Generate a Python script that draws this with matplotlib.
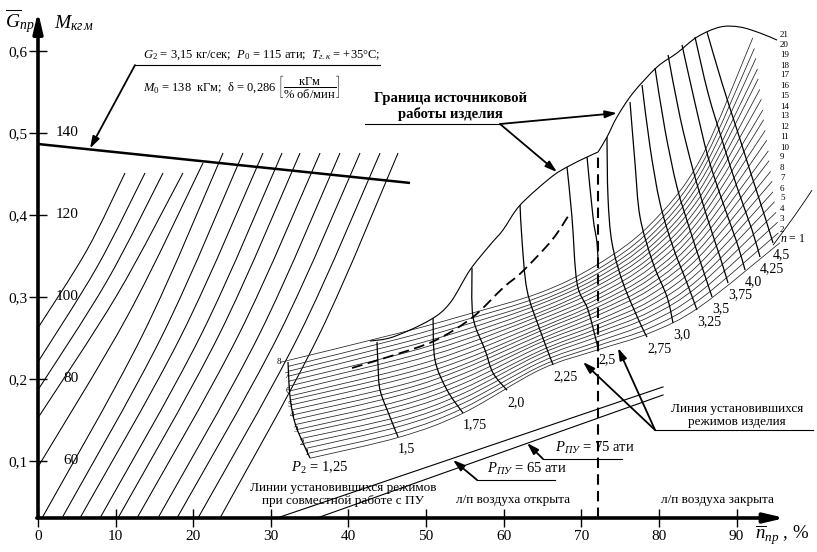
import numpy as np
import matplotlib
matplotlib.use("Agg")
import matplotlib.pyplot as plt
from matplotlib.path import Path
from matplotlib.patches import PathPatch

plt.rcParams["font.family"] = ["Liberation Serif", "DejaVu Serif"]
plt.rcParams["mathtext.fontset"] = "custom"
plt.rcParams["mathtext.rm"] = "Liberation Serif"
plt.rcParams["mathtext.it"] = "Liberation Serif:italic"
plt.rcParams["mathtext.bf"] = "Liberation Serif:bold"

# ---------------- axes / ticks ----------------
x_ticks = [0, 10, 20, 30, 40, 50, 60, 70, 80, 90]
x_tick_labels = ["0", "10", "20", "30", "40", "50", "60", "70", "80", "90"]
g_ticks = [0.1, 0.2, 0.3, 0.4, 0.5, 0.6]
g_tick_labels = ["0,1", "0,2", "0,3", "0,4", "0,5", "0,6"]
m_labels = ["60", "80", "100", "120", "140"]
m_at_g = [0.1, 0.2, 0.3, 0.4, 0.5]

# ---------------- left family (torque lines) ----------------
torque_x = [
    [0.0, 6.31, 11.21],
    [0.0, 7.60, 13.79],
    [0.0, 8.89, 16.11],
    [0.0, 10.18, 18.68],
    [0.0, 11.60, 21.26],
    [0.52, 13.47, 23.84],
    [3.09, 16.04, 26.41],
    [5.41, 18.49, 28.99],
    [7.99, 21.00, 31.44],
    [10.31, 23.32, 33.76],
    [12.76, 25.84, 36.34],
    [15.46, 28.48, 38.91],
    [17.91, 30.99, 41.49],
    [20.62, 33.63, 44.07],
    [23.45, 36.21, 46.39],
]
torque_g = [
    [0.2621, 0.3571, 0.4511],
    [0.2206, 0.3363, 0.4511],
    [0.1864, 0.3193, 0.4511],
    [0.1523, 0.3022, 0.4511],
    [0.0925, 0.2778, 0.4633],
] + [[0.0301, 0.2534, 0.4754]] * 10

# M0 line
m0_x = [0.0, 47.93]
m0_g = [0.4864, 0.4389]

# ---------------- band of steady lines n = 1..21 ----------------
band_n = list(range(1, 22))
band_left_x = [35.05, 34.8, 34.5, 34.2, 33.9, 33.6, 33.4, 33.1, 33.0, 32.9, 32.7,
               32.6, 32.5, 32.5, 32.4, 32.3, 32.3, 32.2, 32.2, 32.2, 31.2]
band_left_g = [0.103, 0.109, 0.115, 0.121, 0.127, 0.133, 0.138, 0.144, 0.150, 0.156, 0.162,
               0.168, 0.174, 0.179, 0.185, 0.191, 0.197, 0.203, 0.209, 0.215, 0.220]
band_station_x = [46.64, 54.76, 64.68, 72.03, 78.86, 85.30]
band_g_st1 = [0.129, 0.135, 0.142, 0.148, 0.154, 0.161, 0.167, 0.173, 0.180, 0.186, 0.192,
              0.199, 0.205, 0.211, 0.218, 0.224, 0.230, 0.237, 0.243, 0.249, 0.256]
band_g_st2 = [0.158, 0.164, 0.170, 0.176, 0.182, 0.188, 0.194, 0.200, 0.206, 0.212, 0.217,
              0.223, 0.229, 0.235, 0.241, 0.247, 0.253, 0.259, 0.265, 0.271, 0.277]
band_g_st3 = [0.211, 0.215, 0.220, 0.225, 0.230, 0.234, 0.239, 0.244, 0.248, 0.253, 0.258,
              0.262, 0.267, 0.272, 0.277, 0.281, 0.286, 0.291, 0.295, 0.300, 0.305]
band_g_st4 = [0.235, 0.240, 0.245, 0.251, 0.256, 0.261, 0.266, 0.271, 0.277, 0.282, 0.287,
              0.292, 0.297, 0.302, 0.308, 0.313, 0.318, 0.323, 0.328, 0.333, 0.339]
band_g_st5 = [0.256, 0.262, 0.269, 0.276, 0.282, 0.289, 0.295, 0.302, 0.309, 0.315, 0.322,
              0.328, 0.335, 0.342, 0.348, 0.355, 0.361, 0.368, 0.374, 0.381, 0.388]
band_g_st6 = [0.288, 0.297, 0.306, 0.315, 0.323, 0.332, 0.341, 0.350, 0.359, 0.368, 0.377,
              0.386, 0.395, 0.404, 0.413, 0.422, 0.431, 0.440, 0.449, 0.458, 0.467]
band_end_x = [95.6, 95.4, 95.3, 95.1, 94.9, 94.7, 94.6, 94.4, 94.2, 94.1, 93.9,
              93.7, 93.5, 93.4, 93.2, 93.0, 92.8, 92.7, 92.5, 92.3, 92.1]
band_end_g = [0.366, 0.378, 0.391, 0.403, 0.416, 0.428, 0.441, 0.453, 0.466, 0.478, 0.491,
              0.503, 0.516, 0.528, 0.541, 0.553, 0.566, 0.578, 0.591, 0.603, 0.616]
left_marks = ["8", "7", "6", "5", "4", "3", "2", "1"]
left_mark_line = [21, 18, 15, 12, 10, 7, 4, 2]

# outer continuation of line n=1
outer_x = [94.70, 97.54, 99.73]
outer_g = [0.3629, 0.3996, 0.4301]

# ---------------- P2 = const curves ----------------
p2_labels = ["1,5", "1,75", "2,0", "2,25", "2,5", "2,75", "3,0", "3,25", "3,5", "3,75", "4,0", "4,25", "4,5"]
p2_x = [
    [43.68, 43.81, 44.07, 45.35, 46.39],
    [50.90, 51.15, 52.70, 54.76],
    [55.92, 56.05, 57.60, 58.63, 60.43],
    [62.11, 62.36, 63.01, 64.68, 66.36],
    [68.16, 68.80, 69.45, 70.87, 72.16],
    [73.31, 73.44, 73.96, 75.38, 77.57, 78.47],
    [76.28, 76.92, 77.57, 79.24, 81.05, 81.82],
    [77.83, 78.86, 80.14, 81.82, 83.62, 84.91],
    [79.50, 80.79, 82.33, 84.01, 85.69, 86.85],
    [81.18, 82.72, 84.40, 86.20, 87.88, 88.91],
    [82.98, 84.65, 86.33, 88.26, 90.07, 91.10],
    [84.65, 86.33, 88.26, 90.19, 92.00, 93.03],
    [86.20, 88.13, 90.07, 92.00, 93.67, 94.70],
]
p2_g = [
    [0.2449, 0.2168, 0.1863, 0.1534, 0.1290],
    [0.2742, 0.2229, 0.1863, 0.1582],
    [0.3351, 0.2754, 0.2351, 0.2070, 0.1860],
    [0.4118, 0.3691, 0.3081, 0.2594, 0.2170],
    [0.4583, 0.3973, 0.3168, 0.2839, 0.2375],
    [0.4949, 0.4217, 0.3656, 0.3168, 0.2680, 0.2509],
    [0.5376, 0.4632, 0.3973, 0.3412, 0.2997, 0.2680],
    [0.5584, 0.4827, 0.4144, 0.3607, 0.3168, 0.2839],
    [0.5791, 0.5035, 0.4339, 0.3815, 0.3327, 0.2998],
    [0.5950, 0.5193, 0.4547, 0.3973, 0.3485, 0.3168],
    [0.6072, 0.5364, 0.4705, 0.4144, 0.3656, 0.3327],
    [0.6169, 0.5486, 0.4876, 0.4303, 0.3815, 0.3485],
    [0.6230, 0.5608, 0.5035, 0.4461, 0.3973, 0.3656],
]
p2_first_x = [35.05, 34.15, 33.11, 32.47, 32.21]
p2_first_g = [0.1033, 0.1216, 0.1460, 0.1778, 0.2205]
p2_extra_x = [70.74, 71.51, 72.03, 72.16]
p2_extra_g = [0.4705, 0.3973, 0.3656, 0.3400]

# boundary of source operation
bound1_x = [42.78, 45.74, 50.51, 53.09, 55.66, 58.24, 59.91, 62.11, 65.97, 68.16, 70.74, 72.16]
bound1_g = [0.2460, 0.2510, 0.2717, 0.2925, 0.3327, 0.3632, 0.3815, 0.4118, 0.4448, 0.4583, 0.4705, 0.4766]
bound2_x = [72.16, 73.31, 74.60, 76.66, 79.76, 82.33, 84.91, 87.88, 90.45, 93.03, 95.22]
bound2_g = [0.4766, 0.4949, 0.5193, 0.5486, 0.5803, 0.5974, 0.6169, 0.6291, 0.6291, 0.6218, 0.6132]

# dashed curve
dash_x = [40.46, 47.93, 51.80, 56.05, 59.91, 62.36, 66.23, 68.55]
dash_g = [0.2131, 0.2351, 0.2497, 0.2754, 0.3108, 0.3303, 0.3693, 0.4021]

# valve switch line (vertical dashed)
valve_x = 72.16
valve_g = [0.0301, 0.4766]

# PU lines
pu_labels = ["65", "75"]
pu_x = [[30.80, 80.53], [35.95, 80.53]]
pu_g = [[0.0301, 0.1900], [0.0301, 0.1802]]


def smooth(xs, ys):
    pts = np.column_stack([xs, ys]).astype(float)
    n = len(pts)
    verts = [pts[0]]
    codes = [Path.MOVETO]
    if n == 2:
        verts.append(pts[1]); codes.append(Path.LINETO)
        return Path(verts, codes)
    for i in range(n - 1):
        p0 = pts[i - 1] if i > 0 else pts[i]
        p1 = pts[i]
        p2 = pts[i + 1]
        p3 = pts[i + 2] if i + 2 < n else pts[i + 1]
        c1 = p1 + (p2 - p0) / 6.0
        c2 = p2 - (p3 - p1) / 6.0
        verts += [c1, c2, p2]
        codes += [Path.CURVE4] * 3
    return Path(verts, codes)


def curve(ax, xs, ys, lw=0.8, color="black", ls="-", **kw):
    ax.add_patch(PathPatch(smooth(xs, ys), fill=False, lw=lw, ec=color, ls=ls,
                           capstyle="butt", **kw))


fig = plt.figure(figsize=(8.17, 5.52), dpi=100)
fig.patch.set_facecolor("white")
ax = fig.add_axes([38 / 817, 34 / 552, 779 / 817, 518 / 552])
ax.set_xlim(0, 100.37)
ax.set_ylim(0.0301, 0.6621)
for s in ax.spines.values():
    s.set_visible(False)
ax.set_xticks(x_ticks)
ax.set_xticklabels(x_tick_labels)
ax.set_yticks(g_ticks)
ax.set_yticklabels(g_tick_labels)
ax.tick_params(axis="both", direction="inout", length=13, width=1.0, labelsize=11, color="black")
ax.tick_params(axis="x", pad=2)
ax.tick_params(axis="y", pad=1)

# axis arrows
arrow_axis = dict(arrowstyle="-|>,head_length=1.2,head_width=0.28", lw=2.6, color="black",
                  shrinkA=0, shrinkB=0)
ax.annotate("", xy=(96.25, 0.0301), xytext=(-0.15, 0.0301), arrowprops=arrow_axis, annotation_clip=False)
ax.annotate("", xy=(0, 0.648), xytext=(0, 0.0301), arrowprops=arrow_axis, annotation_clip=False)

# axis titles
ax.text(-2.3, 0.636, r"$\overline{G}_{пр}$", fontsize=14, ha="center", va="center", clip_on=False)
ax.text(2.0, 0.634, r"$M_{кг\,м}$", fontsize=14, ha="left", va="center", clip_on=False)
ax.text(92.4, 0.0085, r"$\overline{n}_{пр}$ , %", fontsize=13.5, ha="left", va="center", clip_on=False)

# M labels
for lab, g in zip(m_labels, m_at_g):
    ax.text(5.2, g, lab, ha="right", va="center", fontsize=11)

# left family
for xs, gs in zip(torque_x, torque_g):
    curve(ax, xs, gs, lw=0.75)
ax.plot(m0_x, m0_g, color="black", lw=1.8, solid_capstyle="butt")

# band lines
band_stations = [band_g_st1, band_g_st2, band_g_st3, band_g_st4, band_g_st5, band_g_st6]
for k in range(len(band_n)):
    xs = [band_left_x[k]] + band_station_x + [band_end_x[k]]
    gs = [band_left_g[k]] + [st[k] for st in band_stations] + [band_end_g[k]]
    curve(ax, xs, gs, lw=0.55, color="#222222")
curve(ax, outer_x, outer_g, lw=0.6)
for k, n in enumerate(band_n):
    lab = r"$n$ = 1" if n == 1 else str(n)
    fs = 8.5 if n == 1 else 6.5
    ax.text(95.6, band_end_g[k] + 0.004, lab, fontsize=fs, ha="left", va="center", clip_on=False)
for lab, ln in zip(left_marks, left_mark_line):
    ax.text(band_left_x[ln - 1] - 0.2, band_left_g[ln - 1], lab, fontsize=6.5, ha="center", va="center")

# P2 curves
curve(ax, p2_first_x, p2_first_g, lw=0.9)
for lab, xs, gs in zip(p2_labels, p2_x, p2_g):
    curve(ax, xs, gs, lw=0.9)
    ax.annotate(lab, xy=(xs[-1], gs[-1]), xytext=(0, -4), textcoords="offset points",
                fontsize=10, ha="left", va="top")
curve(ax, p2_extra_x, p2_extra_g, lw=0.9)
ax.text(36.3, 0.091, r"$P_2$ = 1,25", fontsize=10.5, ha="center", va="center")

# boundary
curve(ax, bound1_x, bound1_g, lw=0.8)
curve(ax, bound2_x, bound2_g, lw=0.8)

# dashed curve and valve line
curve(ax, dash_x, dash_g, lw=1.3, ls=(0, (6, 3)))
ax.plot([valve_x, valve_x], valve_g, color="black", lw=1.5, ls=(0, (5, 3)))

# PU lines
for xs, gs in zip(pu_x, pu_g):
    ax.plot(xs, gs, color="black", lw=0.8)

arrow_small = dict(arrowstyle="-|>,head_length=0.7,head_width=0.22", lw=1.3, color="black",
                   shrinkA=0, shrinkB=0)

# PU annotations
ax.plot([65.07, 75.25], [0.1021, 0.1021], color="black", lw=0.8)
ax.annotate("", xy=(63.01, 0.1216), xytext=(65.07, 0.1021), arrowprops=arrow_small)
ax.text(66.6, 0.1055, r"$P_{ПУ}$ = 75 ати", fontsize=10.5, ha="left", va="bottom")
ax.plot([56.57, 66.62], [0.0765, 0.0765], color="black", lw=0.8)
ax.annotate("", xy=(53.47, 0.1009), xytext=(56.57, 0.0765), arrowprops=arrow_small)
ax.text(57.9, 0.080, r"$P_{ПУ}$ = 65 ати", fontsize=10.5, ha="left", va="bottom")

# texts near bottom
ax.text(39.3, 0.059, "Линии установившихся режимов\nпри совместной работе с ПУ", fontsize=9.5,
        ha="center", va="center", linespacing=1.05)
ax.text(61.2, 0.052, "л/п воздуха открыта", fontsize=9.5, ha="center", va="center")
ax.text(87.6, 0.052, "л/п воздуха закрыта", fontsize=9.5, ha="center", va="center")

# steady line of product annotation
ax.plot([79.5, 99.86], [0.1375, 0.1375], color="black", lw=0.8, clip_on=False)
ax.annotate("", xy=(74.73, 0.2375), xytext=(79.5, 0.1375), arrowprops=arrow_small)
ax.annotate("", xy=(70.22, 0.2204), xytext=(79.5, 0.1375), arrowprops=arrow_small)
ax.text(90.1, 0.1555, "Линия установившихся\nрежимов изделия", fontsize=9.5, ha="center",
        va="center", linespacing=1.1, clip_on=False)

# boundary annotation
ax.plot([42.1, 59.53], [0.5108, 0.5108], color="black", lw=0.8)
ax.annotate("", xy=(74.60, 0.5241), xytext=(59.53, 0.5108), arrowprops=arrow_small)
ax.annotate("", xy=(66.87, 0.4522), xytext=(59.53, 0.5108), arrowprops=arrow_small)
ax.text(53.1, 0.532, "Граница источниковой\nработы изделия", fontsize=10.5, fontweight="bold",
        ha="center", va="center", linespacing=1.15)

# parameters annotation
ax.plot([12.5, 44.07], [0.5827, 0.5827], color="black", lw=0.8)
ax.annotate("", xy=(6.70, 0.481), xytext=(12.5, 0.5827), arrowprops=arrow_small)
ax.text(13.5, 0.587, r"$G_2$ = 3,15 кг/сек;  $P_0$ = 115 ати;  $T_{г.к}$ = +35°С;",
        fontsize=9, ha="left", va="bottom")
ax.text(13.5, 0.556, r"$M_0$ = 138  кГм;  δ = 0,286 $\left[\dfrac{\mathrm{кГм}}{\mathrm{\%\ об/мин}}\right]$",
        fontsize=9, ha="left", va="center")

fig.savefig("out.png", dpi=100, facecolor="white")
